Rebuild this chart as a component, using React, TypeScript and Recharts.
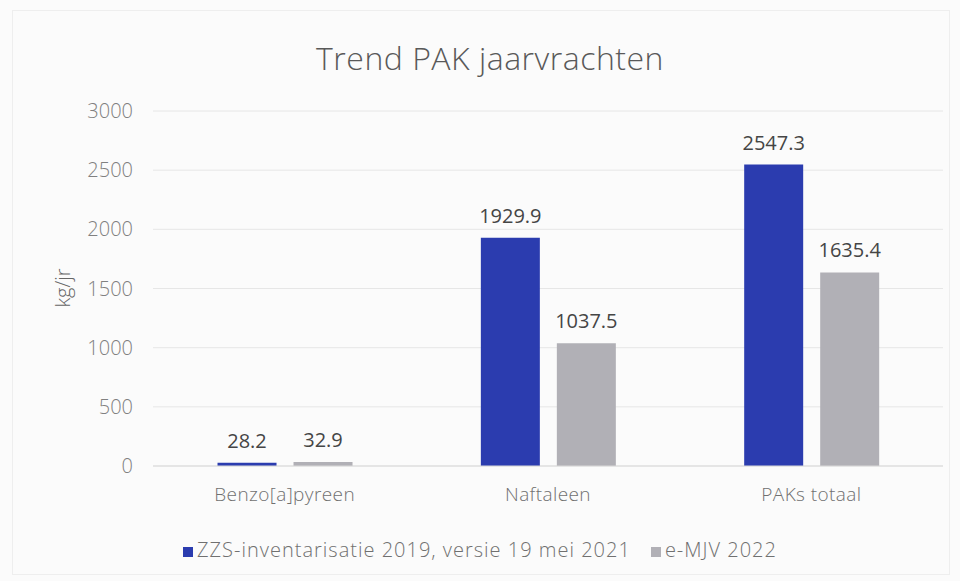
import { Bar, BarChart, CartesianGrid, LabelList, Legend, XAxis, YAxis } from 'recharts';

const categories = ['Benzo[a]pyreen', 'Naftaleen', 'PAKs totaal'];
const zzs2019 = [28.2, 1929.9, 2547.3];
const emjv2022 = [32.9, 1037.5, 1635.4];
const yTicks = [0, 500, 1000, 1500, 2000, 2500, 3000];

const seriesNames = {
  zzs: 'ZZS-inventarisatie 2019, versie 19 mei 2021',
  emjv: 'e-MJV 2022',
};

const data = categories.map((name, i) => ({
  name,
  zzs: zzs2019[i],
  emjv: emjv2022[i],
}));

const font = '"Open Sans", sans-serif';

function AxisTitle() {
  return (
    <text
      x={62}
      y={288}
      transform="rotate(-90 62 288)"
      textAnchor="middle"
      dominantBaseline="central"
      fill="#666"
      fontSize={20}
      fontWeight={300}
      fontFamily={font}
    >
      kg/jr
    </text>
  );
}

export default function App() {
  return (
    <div
      style={{
        position: 'fixed',
        top: 0,
        left: 0,
        width: 960,
        height: 581,
        background: '#fbfbfb',
        fontFamily: font,
      }}
    >
      <div
        style={{
          position: 'absolute',
          top: 10,
          left: 12,
          right: 10,
          bottom: 6,
          border: '1px solid #eeeeee',
        }}
      />
      <div
        style={{
          position: 'absolute',
          top: 36,
          left: 10,
          width: 960,
          textAlign: 'center',
          fontSize: 32,
          fontWeight: 300,
          letterSpacing: 0.5,
          color: '#595959',
        }}
      >
        Trend PAK jaarvrachten
      </div>
      <div style={{ position: 'absolute', top: 0, left: 0 }}>
        <BarChart
          width={960}
          height={581}
          data={data}
          margin={{ top: 111, right: 17, bottom: 58, left: 93 }}
          barCategoryGap="24.5%"
          barGap={17}
        >
          <CartesianGrid vertical={false} stroke="#e6e6e6" />
          <XAxis
            dataKey="name"
            axisLine={{ stroke: '#d9d9d9' }}
            tickLine={false}
            tickMargin={16}
            tick={{ fill: '#707070', fontSize: 19, fontWeight: 300, letterSpacing: 0.4, fontFamily: font }}
          />
          <YAxis
            width={60}
            domain={[0, 3000]}
            ticks={yTicks}
            axisLine={false}
            tickLine={false}
            tickMargin={14}
            tick={{ fill: '#808080', fontSize: 20, fontWeight: 300, fontFamily: font }}
            label={<AxisTitle />}
          />
          <Legend
            verticalAlign="bottom"
            iconType="square"
            iconSize={10}
            wrapperStyle={{
              top: 536,
              left: 10,
              width: 960,
              fontSize: 20,
              fontWeight: 300,
              letterSpacing: 1,
              fontFamily: font,
            }}
            formatter={(value: string) => (
              <span style={{ color: '#707070', paddingRight: 10 }}>{value}</span>
            )}
          />
          <Bar dataKey="zzs" name={seriesNames.zzs} fill="#2b3caf" isAnimationActive={false}>
            <LabelList
              dataKey="zzs"
              position="top"
              offset={15}
              fill="#454545"
              fontSize={20}
              fontFamily={font}
            />
          </Bar>
          <Bar dataKey="emjv" name={seriesNames.emjv} fill="#b1b0b6" isAnimationActive={false}>
            <LabelList
              dataKey="emjv"
              position="top"
              offset={15}
              fill="#454545"
              fontSize={20}
              fontFamily={font}
            />
          </Bar>
        </BarChart>
      </div>
    </div>
  );
}
